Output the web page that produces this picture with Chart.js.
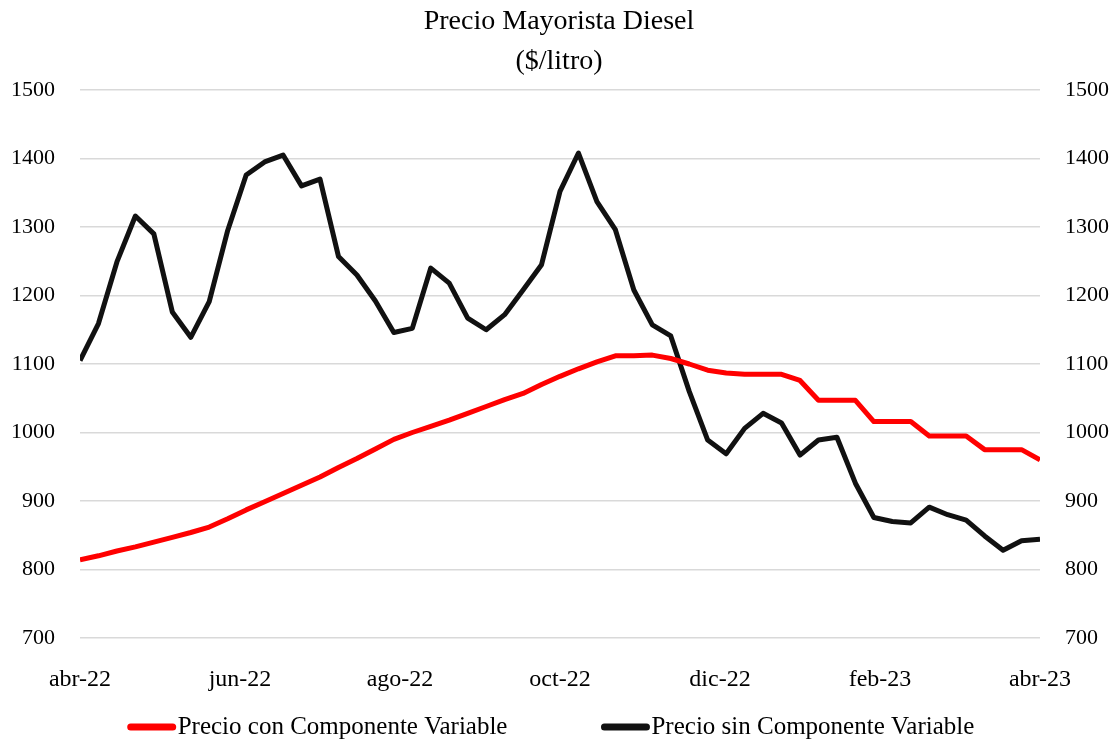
<!DOCTYPE html>
<html>
<head>
<meta charset="utf-8">
<script src="https://cdn.jsdelivr.net/npm/chart.js@4.4.0/dist/chart.umd.min.js"></script>
<style>
  html, body { margin: 0; padding: 0; background: #fff; }
  #wrap { width: 1118px; height: 745px; }
</style>
</head>
<body>
<div id="wrap"><canvas id="grafico" width="1118" height="745"></canvas></div>
<script>
// datos semanales, abr-22 a abr-23 (53 semanas)
const etiquetasEjeX = ["abr-22", "jun-22", "ago-22", "oct-22", "dic-22", "feb-23", "abr-23"];

const precioConComponente = [
  814, 820, 827, 833, 840, 847, 854, 862, 874, 887,
  899, 911, 923, 935, 949, 962, 976, 990, 1000, 1009,
  1018, 1028, 1038, 1048, 1057, 1070, 1082, 1093, 1103, 1112,
  1112, 1113, 1108, 1100, 1091, 1087, 1085, 1085, 1085, 1076,
  1047, 1047, 1047, 1016, 1016, 1016, 995, 995, 995, 975,
  975, 975, 960
];

const precioSinComponente = [
  1105, 1159, 1249, 1316, 1290, 1176, 1139, 1191, 1295, 1376,
  1395, 1405, 1360, 1370, 1257, 1230, 1192, 1146, 1152, 1240,
  1218, 1167, 1150, 1172, 1208, 1245, 1352, 1408, 1337, 1296,
  1208, 1157, 1141, 1060, 989, 969, 1006, 1028, 1014, 967,
  989, 993, 926, 876, 870, 868, 891, 880, 872, 849,
  828, 842, 844
];

const nSemanas = precioSinComponente.length - 1;
const fuente = "'Liberation Serif', 'Times New Roman', serif";

const aPuntos = (arr) => arr.map((v, i) => ({ x: i, y: v }));

// leyenda propia: linea corta + texto pegado, separacion amplia entre items
const leyendaAbajo = {
  id: "leyendaAbajo",
  afterDraw(chart) {
    const ctx = chart.ctx;
    const y = 727;
    const largoLinea = 48;
    const sep = 92;
    ctx.save();
    ctx.font = "25px " + fuente;
    ctx.textBaseline = "middle";
    ctx.textAlign = "left";
    const items = chart.data.datasets.map((ds) => ({
      texto: ds.label,
      color: ds.borderColor,
      ancho: largoLinea + 4 + ctx.measureText(ds.label).width,
    }));
    const total = items.reduce((a, it) => a + it.ancho, 0) + sep * (items.length - 1);
    let x = (chart.chartArea.left + chart.chartArea.right) / 2 - total / 2 - 8;
    items.forEach((it) => {
      ctx.strokeStyle = it.color;
      ctx.lineWidth = 7;
      ctx.lineCap = "round";
      ctx.beginPath();
      ctx.moveTo(x + 3, y);
      ctx.lineTo(x + largoLinea - 3, y);
      ctx.stroke();
      ctx.fillStyle = "#000";
      ctx.fillText(it.texto, x + largoLinea + 2, y);
      x += it.ancho + sep;
    });
    ctx.restore();
  },
};

new Chart(document.getElementById("grafico").getContext("2d"), {
  type: "line",
  data: {
    datasets: [
      {
        label: "Precio con Componente Variable",
        data: aPuntos(precioConComponente),
        borderColor: "#ff0000",
        backgroundColor: "#ff0000",
        borderWidth: 5,
        pointRadius: 0,
        tension: 0,
        borderJoinStyle: "round",
      },
      {
        label: "Precio sin Componente Variable",
        data: aPuntos(precioSinComponente),
        borderColor: "#111111",
        backgroundColor: "#111111",
        borderWidth: 5,
        pointRadius: 0,
        tension: 0,
        borderJoinStyle: "round",
      },
    ],
  },
  options: {
    responsive: false,
    animation: false,
    layout: { padding: { top: 0, bottom: 45, left: 0, right: 0 } },
    plugins: {
      tooltip: { enabled: false },
      legend: { display: false },
      title: {
        display: true,
        text: ["Precio Mayorista Diesel", "($/litro)"],
        color: "#000",
        font: { family: fuente, size: 28, weight: "normal", lineHeight: 40 / 28 },
        padding: { top: 2, bottom: 8 },
      },
    },
    scales: {
      x: {
        type: "linear",
        min: 0,
        max: nSemanas,
        grid: { display: false },
        border: { display: false },
        afterBuildTicks: (axis) => {
          axis.ticks = etiquetasEjeX.map((_, i) => ({ value: (i * nSemanas) / (etiquetasEjeX.length - 1) }));
        },
        ticks: {
          color: "#000",
          font: { family: fuente, size: 24 },
          padding: 19,
          maxRotation: 0,
          autoSkip: false,
          callback: (v, i) => etiquetasEjeX[i],
        },
        afterFit: (s) => { s.height = 62; },
      },
      y: {
        position: "left",
        min: 700,
        max: 1500,
        grid: { color: "#d9d9d9", lineWidth: 1.5, drawTicks: false },
        border: { display: false },
        ticks: {
          stepSize: 100,
          color: "#000",
          font: { family: fuente, size: 22 },
          padding: 25,
          callback: (v) => String(v),
        },
        afterFit: (s) => { s.width = 80; },
      },
      y2: {
        position: "right",
        min: 700,
        max: 1500,
        grid: { display: false, drawTicks: false },
        border: { display: false },
        ticks: {
          stepSize: 100,
          color: "#000",
          font: { family: fuente, size: 22 },
          padding: 25,
          callback: (v) => String(v),
        },
        afterFit: (s) => { s.width = 78; },
      },
    },
  },
  plugins: [leyendaAbajo],
});
</script>
</body>
</html>
